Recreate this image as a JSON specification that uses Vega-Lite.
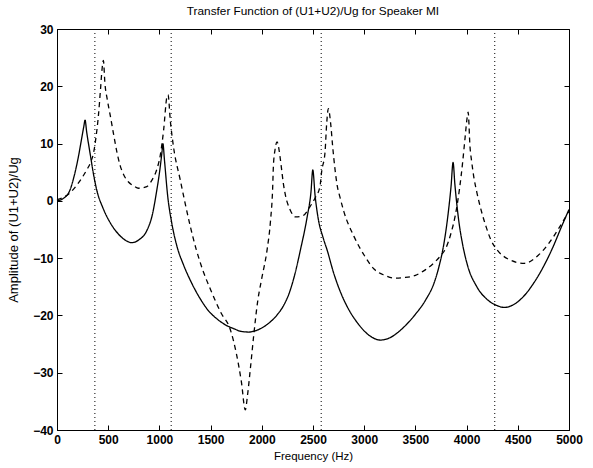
{
  "$schema": "https://vega.github.io/schema/vega-lite/v6.json",
  "width": 512,
  "height": 401,
  "autosize": "none",
  "padding": {"left": 57, "top": 29, "right": 24, "bottom": 38},
  "background": "white",
  "title": {"text": "Transfer Function of (U1+U2)/Ug for Speaker MI", "font": "Liberation Sans", "fontSize": 11.8, "fontWeight": "normal", "color": "black", "anchor": "middle", "offset": 5},
  "config": {
    "view": {"stroke": "black", "strokeWidth": 1},
    "axis": {"grid": false, "domainColor": "black", "tickColor": "black", "labelColor": "black", "titleColor": "black", "labelFont": "Liberation Sans", "titleFont": "Liberation Sans", "labelFontSize": 12, "labelFontWeight": "bold", "titleFontSize": 11.5, "titleFontWeight": "normal", "tickSize": -5, "labelPadding": 9, "format": "d"}
  },
  "datasets": {
    "curves": [
      {"f":0,"v":0,"s":"solid"},{"f":60,"v":0.4,"s":"solid"},{"f":127,"v":1.9,"s":"solid"},{"f":170,"v":4.5,"s":"solid"},{"f":209,"v":7.7,"s":"solid"},{"f":240,"v":10.8,"s":"solid"},{"f":262,"v":13,"s":"solid"},{"f":274,"v":14.1,"s":"solid"},{"f":290,"v":12,"s":"solid"},{"f":323,"v":8.3,"s":"solid"},{"f":360,"v":4.3,"s":"solid"},{"f":388,"v":1.9,"s":"solid"},{"f":450,"v":-1.3,"s":"solid"},{"f":519,"v":-3.8,"s":"solid"},{"f":600,"v":-5.8,"s":"solid"},{"f":680,"v":-7,"s":"solid"},{"f":731,"v":-7.3,"s":"solid"},{"f":800,"v":-6.8,"s":"solid"},{"f":877,"v":-5.2,"s":"solid"},{"f":930,"v":-2.5,"s":"solid"},{"f":975,"v":1.9,"s":"solid"},{"f":1005,"v":5.5,"s":"solid"},{"f":1025,"v":8.5,"s":"solid"},{"f":1034,"v":10,"s":"solid"},{"f":1050,"v":7,"s":"solid"},{"f":1080,"v":1,"s":"solid"},{"f":1120,"v":-3.8,"s":"solid"},{"f":1171,"v":-7.9,"s":"solid"},{"f":1236,"v":-11.2,"s":"solid"},{"f":1300,"v":-13.8,"s":"solid"},{"f":1399,"v":-17.1,"s":"solid"},{"f":1480,"v":-19.2,"s":"solid"},{"f":1562,"v":-20.6,"s":"solid"},{"f":1650,"v":-21.7,"s":"solid"},{"f":1725,"v":-22.3,"s":"solid"},{"f":1800,"v":-22.8,"s":"solid"},{"f":1872,"v":-22.9,"s":"solid"},{"f":1950,"v":-22.6,"s":"solid"},{"f":2050,"v":-21.6,"s":"solid"},{"f":2150,"v":-19.9,"s":"solid"},{"f":2215,"v":-18.2,"s":"solid"},{"f":2270,"v":-16,"s":"solid"},{"f":2320,"v":-13,"s":"solid"},{"f":2378,"v":-8.5,"s":"solid"},{"f":2444,"v":-2.7,"s":"solid"},{"f":2480,"v":1.5,"s":"solid"},{"f":2498,"v":5.4,"s":"solid"},{"f":2520,"v":1,"s":"solid"},{"f":2550,"v":-3,"s":"solid"},{"f":2600,"v":-6.5,"s":"solid"},{"f":2640,"v":-8.7,"s":"solid"},{"f":2700,"v":-12.5,"s":"solid"},{"f":2770,"v":-16,"s":"solid"},{"f":2850,"v":-19,"s":"solid"},{"f":2930,"v":-21.2,"s":"solid"},{"f":3050,"v":-23.5,"s":"solid"},{"f":3160,"v":-24.3,"s":"solid"},{"f":3250,"v":-23.9,"s":"solid"},{"f":3389,"v":-22,"s":"solid"},{"f":3500,"v":-19.8,"s":"solid"},{"f":3600,"v":-17.3,"s":"solid"},{"f":3683,"v":-14.3,"s":"solid"},{"f":3730,"v":-11.5,"s":"solid"},{"f":3780,"v":-7.3,"s":"solid"},{"f":3820,"v":-2.2,"s":"solid"},{"f":3848,"v":2.5,"s":"solid"},{"f":3868,"v":6.7,"s":"solid"},{"f":3885,"v":3,"s":"solid"},{"f":3920,"v":-3,"s":"solid"},{"f":3960,"v":-7.5,"s":"solid"},{"f":4008,"v":-11.2,"s":"solid"},{"f":4100,"v":-15,"s":"solid"},{"f":4200,"v":-17.2,"s":"solid"},{"f":4300,"v":-18.3,"s":"solid"},{"f":4367,"v":-18.6,"s":"solid"},{"f":4450,"v":-18.2,"s":"solid"},{"f":4550,"v":-16.8,"s":"solid"},{"f":4650,"v":-14.5,"s":"solid"},{"f":4750,"v":-11.5,"s":"solid"},{"f":4850,"v":-7.8,"s":"solid"},{"f":4920,"v":-4.8,"s":"solid"},{"f":5000,"v":-1.5,"s":"solid"},
      {"f":0,"v":0.2,"s":"dashed"},{"f":60,"v":0.6,"s":"dashed"},{"f":127,"v":1.4,"s":"dashed"},{"f":200,"v":2.9,"s":"dashed"},{"f":290,"v":5.4,"s":"dashed"},{"f":330,"v":6.8,"s":"dashed"},{"f":356,"v":8.3,"s":"dashed"},{"f":380,"v":11,"s":"dashed"},{"f":405,"v":15,"s":"dashed"},{"f":425,"v":19.5,"s":"dashed"},{"f":440,"v":23,"s":"dashed"},{"f":453,"v":24.5,"s":"dashed"},{"f":468,"v":20.5,"s":"dashed"},{"f":490,"v":17.8,"s":"dashed"},{"f":519,"v":15,"s":"dashed"},{"f":551,"v":11.8,"s":"dashed"},{"f":584,"v":8.6,"s":"dashed"},{"f":616,"v":6.2,"s":"dashed"},{"f":650,"v":4.6,"s":"dashed"},{"f":698,"v":3.3,"s":"dashed"},{"f":750,"v":2.6,"s":"dashed"},{"f":796,"v":2.2,"s":"dashed"},{"f":877,"v":2.5,"s":"dashed"},{"f":930,"v":3.7,"s":"dashed"},{"f":975,"v":5.5,"s":"dashed"},{"f":1008,"v":7.9,"s":"dashed"},{"f":1041,"v":12.3,"s":"dashed"},{"f":1073,"v":18.1,"s":"dashed"},{"f":1085,"v":18.5,"s":"dashed"},{"f":1106,"v":14.1,"s":"dashed"},{"f":1138,"v":9.4,"s":"dashed"},{"f":1203,"v":3.7,"s":"dashed"},{"f":1250,"v":-0.3,"s":"dashed"},{"f":1301,"v":-4.4,"s":"dashed"},{"f":1360,"v":-8.5,"s":"dashed"},{"f":1432,"v":-12.5,"s":"dashed"},{"f":1500,"v":-15.5,"s":"dashed"},{"f":1600,"v":-19.5,"s":"dashed"},{"f":1693,"v":-22.5,"s":"dashed"},{"f":1750,"v":-26.5,"s":"dashed"},{"f":1800,"v":-31.5,"s":"dashed"},{"f":1839,"v":-36.5,"s":"dashed"},{"f":1860,"v":-34,"s":"dashed"},{"f":1890,"v":-29,"s":"dashed"},{"f":1921,"v":-23.5,"s":"dashed"},{"f":1960,"v":-17.5,"s":"dashed"},{"f":2000,"v":-13.5,"s":"dashed"},{"f":2052,"v":-8.5,"s":"dashed"},{"f":2085,"v":-3.5,"s":"dashed"},{"f":2106,"v":2.2,"s":"dashed"},{"f":2113,"v":6,"s":"dashed"},{"f":2129,"v":8.9,"s":"dashed"},{"f":2149,"v":10.3,"s":"dashed"},{"f":2178,"v":7.7,"s":"dashed"},{"f":2194,"v":5.4,"s":"dashed"},{"f":2210,"v":3.1,"s":"dashed"},{"f":2233,"v":0.8,"s":"dashed"},{"f":2275,"v":-1.5,"s":"dashed"},{"f":2330,"v":-2.8,"s":"dashed"},{"f":2400,"v":-2.6,"s":"dashed"},{"f":2471,"v":-1,"s":"dashed"},{"f":2520,"v":0.5,"s":"dashed"},{"f":2568,"v":2.5,"s":"dashed"},{"f":2585,"v":5.2,"s":"dashed"},{"f":2617,"v":8.4,"s":"dashed"},{"f":2634,"v":13.6,"s":"dashed"},{"f":2650,"v":16.1,"s":"dashed"},{"f":2672,"v":13.6,"s":"dashed"},{"f":2692,"v":9.5,"s":"dashed"},{"f":2715,"v":5.5,"s":"dashed"},{"f":2737,"v":2.6,"s":"dashed"},{"f":2764,"v":0.6,"s":"dashed"},{"f":2800,"v":-1.8,"s":"dashed"},{"f":2900,"v":-6.2,"s":"dashed"},{"f":3000,"v":-9.5,"s":"dashed"},{"f":3096,"v":-11.9,"s":"dashed"},{"f":3200,"v":-13,"s":"dashed"},{"f":3300,"v":-13.5,"s":"dashed"},{"f":3389,"v":-13.4,"s":"dashed"},{"f":3500,"v":-13,"s":"dashed"},{"f":3600,"v":-12,"s":"dashed"},{"f":3683,"v":-10.8,"s":"dashed"},{"f":3750,"v":-9.5,"s":"dashed"},{"f":3796,"v":-8.3,"s":"dashed"},{"f":3850,"v":-5.5,"s":"dashed"},{"f":3890,"v":-2.5,"s":"dashed"},{"f":3930,"v":2,"s":"dashed"},{"f":3960,"v":6.5,"s":"dashed"},{"f":3985,"v":11,"s":"dashed"},{"f":4005,"v":14.5,"s":"dashed"},{"f":4015,"v":15.5,"s":"dashed"},{"f":4033,"v":9.5,"s":"dashed"},{"f":4050,"v":6.8,"s":"dashed"},{"f":4070,"v":4.2,"s":"dashed"},{"f":4100,"v":1.5,"s":"dashed"},{"f":4140,"v":-1.5,"s":"dashed"},{"f":4190,"v":-4.5,"s":"dashed"},{"f":4237,"v":-6.8,"s":"dashed"},{"f":4300,"v":-8.6,"s":"dashed"},{"f":4400,"v":-10.1,"s":"dashed"},{"f":4563,"v":-10.9,"s":"dashed"},{"f":4700,"v":-9.5,"s":"dashed"},{"f":4800,"v":-7.5,"s":"dashed"},{"f":4900,"v":-4.8,"s":"dashed"},{"f":5000,"v":-1.8,"s":"dashed"}
    ],
    "formants": [{"f": 370}, {"f": 1115}, {"f": 2580}, {"f": 4275}]
  },
  "layer": [
    {
      "data": {"name": "formants"},
      "mark": {"type": "rule", "color": "black", "strokeWidth": 1, "strokeDash": [1, 3]},
      "encoding": {
        "x": {"field": "f", "type": "quantitative", "scale": {"domain": [0, 5000], "nice": false}, "axis": {"orient": "top", "labels": false, "title": null, "domain": false, "values": [0,500,1000,1500,2000,2500,3000,3500,4000,4500,5000]}},
        "y": {"datum": -40, "type": "quantitative", "scale": {"domain": [-40, 30], "nice": false}, "axis": {"orient": "right", "labels": false, "title": null, "domain": false, "values": [-40,-30,-20,-10,0,10,20,30]}},
        "y2": {"datum": 30}
      }
    },
    {
      "data": {"name": "curves"},
      "mark": {"type": "line", "color": "black", "strokeWidth": 1.3, "interpolate": "monotone"},
      "encoding": {
        "x": {"field": "f", "type": "quantitative", "axis": {"orient": "bottom", "title": "Frequency (Hz)", "values": [0,500,1000,1500,2000,2500,3000,3500,4000,4500,5000], "labelFlush": false, "titlePadding": 5}},
        "y": {"field": "v", "type": "quantitative", "axis": {"orient": "left", "title": "Amplitude of (U1+U2)/Ug", "titleFontSize": 13, "values": [-40,-30,-20,-10,0,10,20,30], "titlePadding": 12}},
        "strokeDash": {"field": "s", "type": "nominal", "scale": {"domain": ["solid", "dashed"], "range": [[1, 0], [5, 4]]}, "legend": null},
        "detail": {"field": "s"}
      }
    }
  ],
  "resolve": {"axis": {"x": "independent", "y": "independent"}}
}
